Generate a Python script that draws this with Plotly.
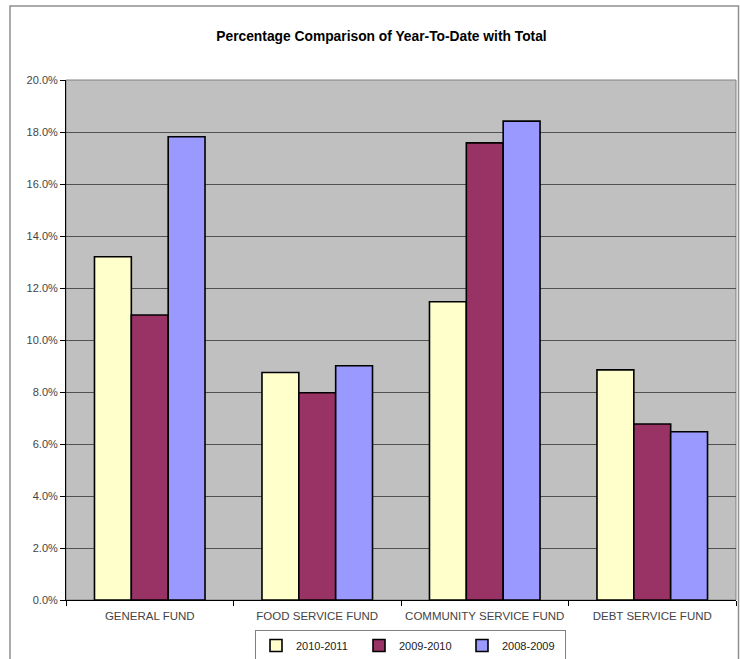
import plotly.graph_objects as go

categories = ["GENERAL FUND", "FOOD SERVICE FUND", "COMMUNITY SERVICE FUND", "DEBT SERVICE FUND"]
series_names = ["2010-2011", "2009-2010", "2008-2009"]
v_2010_2011 = [13.2, 8.75, 11.47, 8.85]
v_2009_2010 = [10.96, 7.97, 17.58, 6.77]
v_2008_2009 = [17.82, 9.01, 18.42, 6.47]
colors = ["#FFFFCC", "#993366", "#9999FF"]
y_ticks = [0, 2, 4, 6, 8, 10, 12, 14, 16, 18, 20]
y_tick_labels = ["%.1f%%" % t for t in y_ticks]

W, H = 740, 659
ML, MR, MT, MB = 66, 4, 80, 59
pw = W - ML - MR
ph = H - MT - MB

fig = go.Figure()
for name, vals, col in zip(series_names, [v_2010_2011, v_2009_2010, v_2008_2009], colors):
    fig.add_trace(go.Bar(
        x=categories, y=vals, name=name,
        marker=dict(color=col, line=dict(color="#000000", width=1.6)),
    ))

font_family = "Liberation Sans, Arial, sans-serif"

def px_x(p):
    return (p - ML) / pw

def px_y(p):
    return (H - MB - p) / ph

fig.update_layout(
    width=W, height=H,
    autosize=False,
    margin=dict(l=ML, r=MR, t=MT, b=MB, pad=0, autoexpand=False),
    paper_bgcolor="white",
    plot_bgcolor="#C0C0C0",
    barmode="group",
    bargap=0.34,
    bargroupgap=0,
    font=dict(family=font_family, color="#333333"),
    title=dict(
        text="<b>Percentage Comparison of Year-To-Date with Total</b>",
        font=dict(family=font_family, size=13.8, color="#000000"),
        xref="paper", x=px_x(381.5), xanchor="center",
        yref="container", y=1 - 36 / H, yanchor="middle",
    ),
    showlegend=True,
    legend=dict(
        orientation="h",
        xref="paper", yref="paper",
        x=px_x(410.5), xanchor="center",
        y=px_y(630), yanchor="top",
        bordercolor="#808080", borderwidth=1,
        bgcolor="white",
        font=dict(family=font_family, size=11, color="#222222"),
        itemwidth=30,
        entrywidth=58,
        tracegroupgap=0,
    ),
    xaxis=dict(
        type="category",
        tickson="boundaries",
        tickangle=0,
        automargin=False,
        ticks="outside", ticklen=5, tickcolor="#000000", tickwidth=1,
        showline=True, linecolor="#000000", linewidth=1,
        showgrid=False,
        ticklabelstandoff=5,
        tickfont=dict(family=font_family, size=11.5, color="#444444"),
        fixedrange=True,
    ),
    yaxis=dict(
        range=[0, 20],
        automargin=False,
        tickvals=y_ticks, ticktext=y_tick_labels,
        ticks="outside", ticklen=5, tickcolor="#000000", tickwidth=1,
        showline=True, linecolor="#000000", linewidth=1,
        showgrid=True, gridcolor="#505050", gridwidth=1.2,
        zeroline=False,
        tickfont=dict(family=font_family, size=11, color="#444444"),
        fixedrange=True,
    ),
    shapes=[
        dict(type="rect", xref="paper", yref="paper",
             x0=0, x1=1, y0=0, y1=1,
             line=dict(color="#808080", width=1), layer="below"),
        dict(type="rect", xref="paper", yref="paper",
             x0=px_x(10), x1=px_x(738.5), y0=px_y(668), y1=px_y(6),
             line=dict(color="#909090", width=1.5)),
    ],
)

fig.write_html(
    "out.html",
    config={"displayModeBar": False},
    post_script="document.body.style.margin='0';document.body.style.overflow='hidden';",
)
